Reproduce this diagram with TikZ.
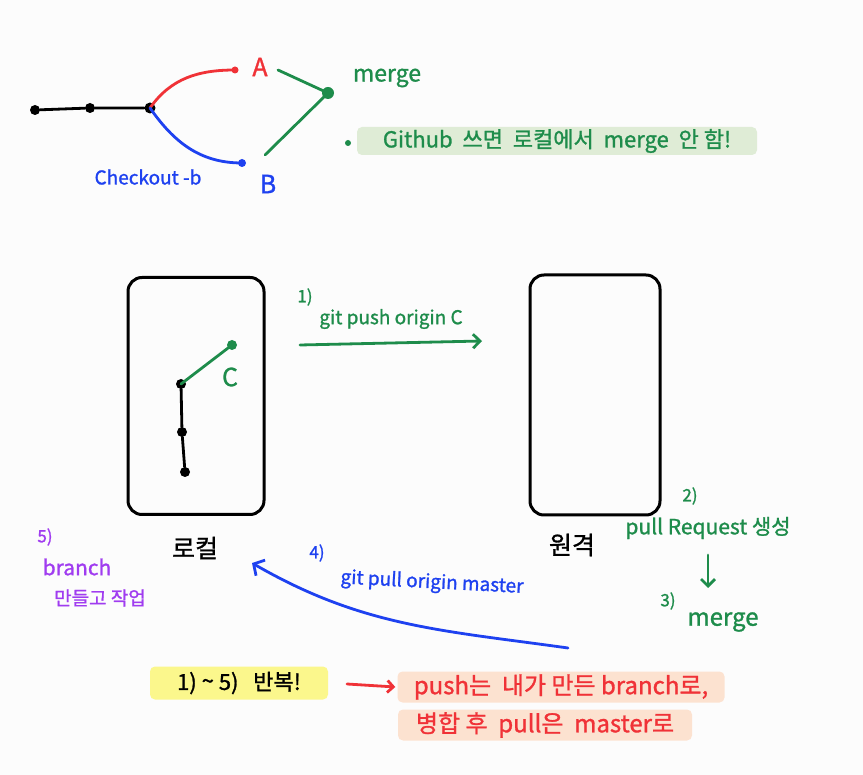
\documentclass[tikz,border=0pt]{standalone}
\usepackage{fontspec}
\setmainfont{Noto Sans CJK KR}[FakeBold=1.2]
\usetikzlibrary{arrows.meta}
\definecolor{cgreen}{RGB}{30,140,75}
\definecolor{cred}{RGB}{240,50,55}
\definecolor{cblue}{RGB}{30,65,240}
\definecolor{cpurple}{RGB}{160,60,240}
\definecolor{cyellow}{RGB}{251,247,140}
\definecolor{cpeach}{RGB}{252,226,208}
\definecolor{cgreenbg}{RGB}{223,236,214}
\definecolor{cbg}{RGB}{252,252,252}
\tikzset{
  dot/.style={circle,fill=#1,inner sep=0pt,minimum size=10pt},
  dot/.default=black,
  stroke/.style={line width=2.8pt,line cap=round,line join=round},
  panel/.style={draw=black,line width=3pt,rounded corners=14pt},
  lbl/.style={inner sep=0pt,font=\fontsize{#1}{#1}\selectfont},
  lbl/.default=20,
  hl/.style={fill=#1,rounded corners=5pt,inner xsep=6pt,inner ysep=5pt},
}
\begin{document}
\begin{tikzpicture}[x=1pt,y=1pt]
\useasboundingbox[fill=cbg] (0,0) rectangle (863,-775);
% top graph
\node[dot] (c1) at (35,-110) {};
\node[dot] (c2) at (90,-108) {};
\node[dot,minimum size=11pt] (c3) at (150,-108) {};
\node[dot=cred,minimum size=7pt] (ca) at (235,-70) {};
\node[dot=cblue,minimum size=8pt] (cb) at (242,-163) {};
\node[dot=cgreen,minimum size=12pt] (cm) at (328,-93) {};
\draw[stroke] (c1) -- (c2) -- (c3);
\draw[stroke,cred] (c3.center) to[out=55,in=180] (ca.center);
\draw[stroke,cblue] (c3.center) to[out=-55,in=180] (cb.center);
\coordinate (ga) at (278,-70);
\coordinate (gb) at (265,-155);
\draw[stroke,cgreen] (ga) -- (cm.center) -- (gb);
\node[lbl=25,text=cred] (tA) at (260,-67) {A};
\node[lbl=25,text=cblue] (tB) at (268,-184) {B};
\node[lbl=23,text=cgreen] (tmerge) at (387,-78) {merge};
\node[lbl=19,text=cblue] (tco) at (148,-177) {Checkout -b};
\node[dot=cgreen,minimum size=6pt] (bul) at (348,-143) {};
\node[hl=cgreenbg,lbl=22,text=cgreen,minimum width=400pt,minimum height=28pt] (note) at (557,-141) {Github\ \ 쓰면\ \ 로컬에서\ \ merge\ \ 안\ 함!};
% panels
\node[panel,minimum width=136pt,minimum height=237pt] (local) at (196,-396) {};
\node[panel,minimum width=130pt,minimum height=240pt] (remote) at (595,-395) {};
\node[lbl=25] (tlocal) at (195,-548) {로컬};
\node[lbl=25] (tremote) at (572,-545) {원격};
% local commits
\node[dot] (l1) at (185,-472) {};
\node[dot] (l2) at (182,-432) {};
\node[dot] (l3) at (181,-384) {};
\node[dot=cgreen] (lc) at (232,-345) {};
\draw[stroke] (l1) -- (l2) -- (l3);
\draw[stroke,cgreen] (l3.center) -- (lc.center);
\node[lbl=25,text=cgreen] (tC) at (230,-377) {C};
% step 1
\coordinate (p1s) at (300,-345);
\coordinate (p1e) at (482,-341);
\draw[stroke,cgreen,-{Straight Barb[length=7pt,width=14pt]}] (p1s) -- (p1e);
\node[lbl=17,text=cgreen] (t1) at (305,-297) {1)};
\node[lbl=19,text=cgreen] (tpush) at (391,-319) {git push origin C};
% step 2,3
\node[lbl=17,text=cgreen] (t2) at (690,-496) {2)};
\node[lbl=21,text=cgreen] (tpr) at (708,-528) {pull Request 생성};
\coordinate (d1) at (708,-555);
\coordinate (d2) at (708,-588);
\draw[stroke,cgreen,-{Straight Barb[length=7pt,width=14pt]}] (d1) -- (d2);
\node[lbl=17,text=cgreen] (t3) at (668,-601) {3)};
\node[lbl=24,text=cgreen] (tmerge2) at (723,-622) {merge};
% step 4
\coordinate (p4s) at (568,-648);
\coordinate (p4e) at (252,-563);
\draw[stroke,cblue,-{Straight Barb[length=8pt,width=18pt]}] (p4s) to[out=172,in=-30] (p4e);
\node[lbl=17,text=cblue] (t4) at (317,-553) {4)};
\node[lbl=19,text=cblue,rotate=-3] (tpull) at (432,-583) {git pull origin master};
% step 5
\node[lbl=17,text=cpurple] (t5) at (45,-537) {5)};
\node[lbl=21,text=cpurple] (tbr) at (77,-567) {branch};
\node[lbl=19,text=cpurple] (tmk) at (100,-598) {만들고 작업};
% bottom notes
\node[hl=cyellow,lbl=22,minimum width=178pt,minimum height=33pt] (rep) at (239,-683) {1)\ \raisebox{1pt}{\textasciitilde}\ 5)\ \ \ 반복!};
\node[hl=cpeach,lbl=24,text=cred,minimum width=327pt,minimum height=31pt] (n1) at (561,-687) {push는\ \ 내가\ 만든\ branch로,};
\node[hl=cpeach,lbl=24,text=cred,minimum width=294pt,minimum height=31pt] (n2) at (545,-725) {병합 후\ \ pull은\ \ master로};
\coordinate (ra) at (347,-684);
\draw[stroke,cred,-{Straight Barb[length=6pt,width=12pt]}] (ra) -- ([xshift=-2pt]n1.west);
\end{tikzpicture}
\end{document}
